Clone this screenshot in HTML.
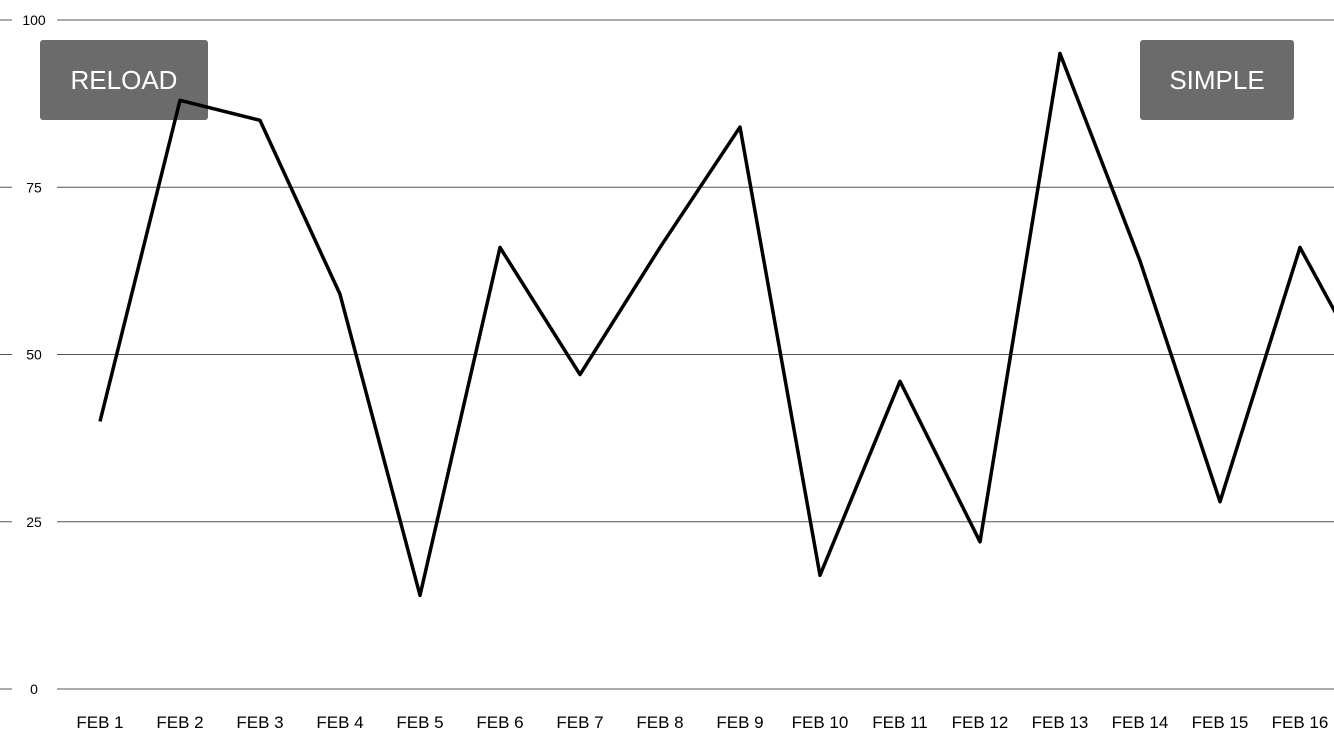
<!DOCTYPE html>
<html><head><meta charset="utf-8"><style>
html,body{margin:0;padding:0;background:#fff;width:1334px;height:750px;overflow:hidden;font-family:"Liberation Sans",sans-serif}
.btn{position:absolute;background:#6b6b6b;color:#fff;border-radius:3px;font-size:26px;display:flex;align-items:center;justify-content:center;top:40px;height:80px}
svg{position:absolute;left:0;top:0}
</style></head><body>
<div class="btn" style="left:40px;width:168px">RELOAD</div>
<div class="btn" style="left:1140px;width:154px">SIMPLE</div>
<svg id="c" width="1334" height="750"></svg>
<script>
const categories=["FEB 1","FEB 2","FEB 3","FEB 4","FEB 5","FEB 6","FEB 7","FEB 8","FEB 9","FEB 10","FEB 11","FEB 12","FEB 13","FEB 14","FEB 15","FEB 16","FEB 17"];
const values=[40,88,85,59,14,66,47,66,84,17,46,22,95,64,28,66,44];
const yTicks=[0,25,50,75,100];
const svg=document.getElementById('c');const NS='http://www.w3.org/2000/svg';
const x=i=>100+i*80;const y=v=>689-v*6.69;
function mk(t,a){const e=document.createElementNS(NS,t);for(const k in a)e.setAttribute(k,a[k]);svg.appendChild(e);return e;}
yTicks.forEach(t=>{
 const g=mk('line',{x1:57,x2:1334,y1:y(t),y2:y(t),stroke:'#555','stroke-width':1});
 
 
 const tk=mk('line',{x1:0,x2:12,y1:y(t),y2:y(t),stroke:'#555','stroke-width':1});
 
 
 const l=mk('text',{x:34,y:y(t)+5,'text-anchor':'middle','font-size':14,fill:'#000','font-family':'Liberation Sans, sans-serif'});
 l.textContent=t;
 
 
});
categories.forEach((c,i)=>{
 const l=mk('text',{x:x(i),y:728,'text-anchor':'middle','font-size':17,fill:'#000','font-family':'Liberation Sans, sans-serif'});
 l.textContent=c;
 
 
});
const p=mk('polyline',{points:values.map((v,i)=>x(i)+','+y(v)).join(' '),fill:'none',stroke:'#000','stroke-width':3.5,'stroke-linejoin':'round'});


</script>
</body></html>
